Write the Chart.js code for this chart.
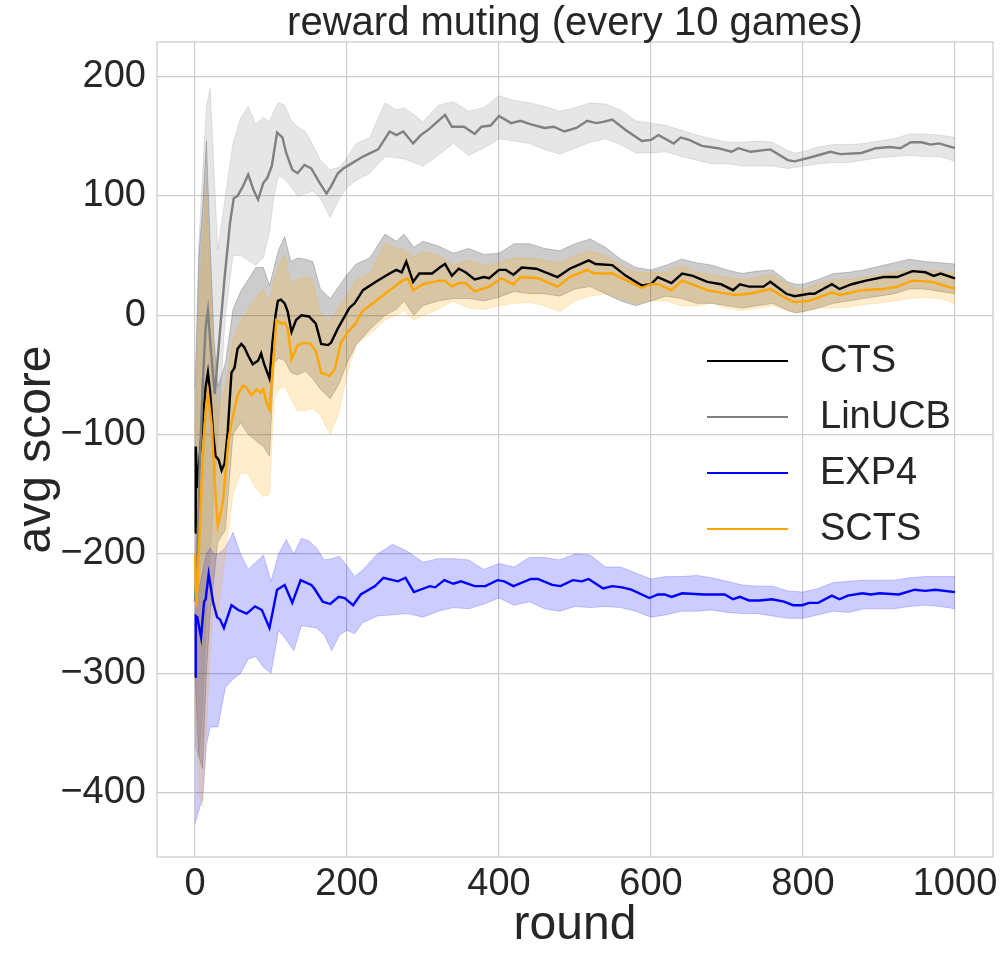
<!DOCTYPE html>
<html>
<head>
<meta charset="utf-8">
<script src="https://cdn.jsdelivr.net/npm/chart.js@4/dist/chart.umd.min.js"></script>
<style>
  html, body { margin: 0; padding: 0; background: #fff; }
  #wrap { width: 1007px; height: 959px; }
</style>
</head>
<body>
<div id="wrap"><canvas id="c"></canvas></div>
<script>
const titleText = "reward muting (every 10 games)";
const xTicks = [0, 200, 400, 600, 800, 1000];
const yTicks = [-400, -300, -200, -100, 0, 100, 200];

// mean curves
const ctsX = [0,1,3,6,10,14,17,20,24,27,31,35,39,43,48,52,56,61,65,70,76,83,87,91,98,102,106,109,113,118,122,127,133,140,150,159,166,175,179,188,196,203,210,221,238,256,265,272,278,287,295,312,322,329,338,347,356,368,380,387,400,409,419,430,449,477,493,504,518,527,549,567,588,600,609,627,641,655,674,692,708,717,729,748,757,778,789,808,815,838,848,864,883,906,924,944,961,972,981,1000];
const ctsY = [-182,-110,-145,-120,-90,-60,-48,-65,-100,-118,-121,-130,-124,-98,-48,-44,-28,-24,-27,-34,-41,-38,-32,-41,-53,-22,0,12,13,10,3,-14,-4,0,-1,-7,-24,-25,-23,-11,-2,6,10,21,28,35,38,36,45,28,35,35,40,43,33,39,36,30,32,31,38,38,34,40,39,32,39,42,46,43,42,33,25,26,32,27,35,33,28,26,21,26,24,24,28,18,16,18,18,26,22,26,29,32,32,37,36,33,35,31];

const linX = [0,3,6,10,14,17,21,26,32,39,46,51,56,63,70,77,83,90,95,101,108,115,120,128,135,144,153,164,173,179,188,195,203,221,241,256,265,274,287,297,308,322,329,338,354,368,377,389,400,416,428,442,460,472,486,502,516,528,537,549,567,588,600,610,630,639,650,667,688,706,715,731,757,780,789,808,836,849,877,896,914,928,942,956,968,979,1000];
const linY = [-240,-200,-130,-60,-10,4,-30,-66,-20,32,77,98,100,108,118,105,97,111,115,125,153,149,136,122,119,126,123,111,102,108,119,123,126,133,139,154,151,154,144,151,156,164,168,158,158,152,158,159,167,161,163,160,157,158,154,157,163,161,162,164,155,146,147,151,144,149,147,142,140,137,140,137,139,130,129,132,137,135,136,140,141,140,145,145,143,144,140];

const expX = [0,1,3,8,12,14,18,24,29,33,38,48,57,68,79,88,98,108,118,128,139,153,157,168,178,189,197,208,218,237,248,267,277,288,309,316,328,340,350,368,382,398,407,419,442,451,470,481,497,509,518,537,549,562,574,598,609,618,627,641,669,683,697,708,717,729,743,759,775,787,799,808,820,838,848,859,878,889,901,926,947,961,974,1000];
const expY = [-303,-252,-253,-270,-240,-238,-217,-241,-253,-255,-262,-243,-247,-250,-244,-247,-262,-230,-226,-241,-222,-226,-229,-240,-242,-236,-237,-243,-234,-227,-220,-223,-220,-232,-227,-228,-222,-225,-223,-227,-227,-222,-223,-227,-221,-221,-226,-227,-222,-223,-221,-229,-227,-228,-230,-237,-234,-234,-236,-233,-234,-234,-234,-238,-236,-239,-239,-238,-240,-243,-243,-241,-241,-235,-238,-235,-233,-234,-233,-234,-230,-231,-230,-232];

const sctsX = [0,2,5,10,14,17,22,26,30,34,37,41,44,48,56,63,67,74,81,86,90,94,98,102,107,114,118,122,127,135,144,152,159,166,177,184,192,201,210,221,238,256,273,280,287,300,322,329,338,347,356,368,387,403,419,428,451,477,493,516,525,549,588,600,609,627,641,674,692,711,729,757,778,789,808,838,849,877,906,924,944,970,1000];
const sctsY = [-200,-244,-200,-120,-80,-65,-92,-140,-176,-165,-155,-126,-105,-90,-67,-59,-60,-67,-62,-65,-62,-73,-79,-48,-4,-7,-6,-11,-37,-25,-23,-24,-30,-48,-51,-45,-23,-14,-8,4,12,21,29,31,21,26,29,29,24,27,27,20,24,31,26,32,31,24,32,38,35,35,23,26,26,21,29,21,19,17,18,22,14,11,12,19,17,21,22,24,29,28,22];

// confidence bands (CTS, LinUCB, SCTS share bandX)
const bandX = [0,5,10,15,20,25,30,40,50,60,70,80,90,98,104,110,118,126,135,145,155,165,178,190,200,212,230,250,265,275,288,300,320,340,360,380,400,420,440,460,480,500,520,540,560,580,600,620,640,660,680,700,720,740,760,780,790,800,820,840,860,880,900,920,940,960,980,1000];
const ctsHi = [-60,50,90,146,60,-20,-60,-40,5,20,30,40,40,25,40,55,66,45,48,47,45,22,14,25,34,43,48,68,62,68,57,62,58,52,56,51,52,60,60,56,54,60,64,57,47,40,38,42,47,44,42,38,35,37,38,28,26,26,30,35,36,38,41,44,47,45,44,43];
const ctsLo = [-300,-370,-380,-300,-250,-220,-190,-180,-100,-90,-100,-105,-110,-118,-40,-36,-38,-48,-50,-47,-53,-62,-70,-57,-40,-25,-12,0,5,12,0,8,12,14,14,12,15,20,18,18,16,22,24,18,12,8,12,16,14,10,10,8,6,8,10,4,2,3,6,10,12,14,16,18,22,22,20,18];
const linHi = [-120,60,120,175,190,120,55,100,144,165,175,160,166,162,172,178,176,164,158,154,143,130,122,124,132,144,149,178,172,174,168,162,176,179,171,174,184,180,178,175,171,174,178,177,172,163,161,159,155,151,148,145,145,146,145,138,136,137,141,143,143,144,146,148,152,152,151,149];
const linLo = [-360,-370,-330,-250,-200,-150,-100,0,50,50,46,42,48,70,100,117,114,108,100,102,104,98,82,98,107,113,119,133,132,131,128,125,134,144,134,140,148,146,144,139,135,140,145,148,143,136,136,137,133,130,127,127,125,125,125,123,124,125,127,128,128,130,132,133,134,133,133,129];
const sctsHi = [-100,0,60,107,30,-40,-80,-60,-20,-5,5,15,22,10,30,42,51,26,30,32,30,2,-5,8,16,30,35,60,56,55,49,53,50,42,46,42,44,48,48,46,44,50,54,50,42,36,36,36,42,36,34,32,30,32,34,26,22,22,26,30,30,32,34,36,38,38,37,35];
const sctsLo = [-320,-400,-412,-350,-280,-240,-250,-200,-150,-132,-133,-145,-152,-150,-70,-62,-60,-70,-80,-80,-78,-84,-100,-80,-50,-24,-16,-4,0,4,-4,0,5,12,6,5,8,10,11,8,3,12,16,18,14,10,12,12,8,8,10,6,4,6,8,4,2,3,6,6,7,9,10,12,14,15,14,10];

const expBandX = [0,5,10,15,20,25,30,40,50,60,70,80,90,100,110,120,130,140,150,160,170,180,190,200,210,220,240,260,280,300,320,340,360,380,400,420,440,460,480,500,520,540,560,580,600,620,640,660,680,700,720,740,760,780,800,820,840,860,880,900,920,940,960,980,1000];
const expHi = [-250,-230,-215,-200,-195,-200,-200,-195,-182,-200,-213,-207,-201,-223,-200,-188,-200,-187,-189,-195,-205,-204,-202,-210,-219,-214,-200,-192,-198,-207,-204,-204,-205,-213,-208,-211,-203,-203,-205,-200,-201,-211,-211,-216,-221,-219,-219,-218,-220,-223,-226,-227,-227,-231,-232,-229,-224,-223,-222,-222,-222,-220,-219,-219,-219];
const expLo = [-426,-415,-405,-360,-345,-345,-345,-312,-305,-300,-288,-286,-295,-300,-264,-272,-281,-260,-261,-262,-268,-281,-268,-264,-267,-258,-252,-251,-250,-253,-248,-245,-246,-242,-237,-243,-240,-246,-248,-244,-245,-244,-245,-248,-253,-251,-248,-248,-247,-249,-250,-250,-252,-254,-254,-251,-248,-249,-246,-246,-246,-244,-243,-244,-246];

const series = [
  { label: "CTS", rgb: "0, 0, 0", x: ctsX, y: ctsY, bx: bandX, lo: ctsLo, hi: ctsHi },
  { label: "LinUCB", rgb: "128, 128, 128", x: linX, y: linY, bx: bandX, lo: linLo, hi: linHi },
  { label: "EXP4", rgb: "0, 0, 255", x: expX, y: expY, bx: expBandX, lo: expLo, hi: expHi },
  { label: "SCTS", rgb: "255, 165, 0", x: sctsX, y: sctsY, bx: bandX, lo: sctsLo, hi: sctsHi }
];

const pts = (xs, ys) => xs.map((x, i) => ({ x: x, y: ys[i] }));

const datasets = [];
series.forEach((s, i) => {
  const loIndex = datasets.length + 1;
  datasets.push({
    label: s.label + " band",
    data: pts(s.bx, s.hi),
    fill: loIndex,
    backgroundColor: "rgba(" + s.rgb + ", 0.2)",
    borderColor: "rgba(" + s.rgb + ", 0.2)",
    borderWidth: 1,
    pointRadius: 0,
    order: 13 - i
  });
  datasets.push({
    label: s.label + " lo",
    data: pts(s.bx, s.lo),
    fill: false,
    borderColor: "rgba(" + s.rgb + ", 0.2)",
    borderWidth: 1,
    pointRadius: 0,
    order: 13 - i
  });
});
series.forEach((s, i) => {
  datasets.push({
    label: s.label,
    data: pts(s.x, s.y),
    fill: false,
    borderColor: "rgb(" + s.rgb + ")",
    borderWidth: 2.4,
    pointRadius: 0,
    order: 3 - i
  });
});

const FONT = "'Liberation Sans', Arial, sans-serif";
Chart.defaults.font.family = FONT;
Chart.defaults.color = "#262626";

// title, frame and legend drawn in the matplotlib places
const decor = {
  id: "decor",
  beforeDatasetsDraw(chart) {
    const { ctx, chartArea: a } = chart;
    ctx.save();
    ctx.strokeStyle = "#cccccc";
    ctx.lineWidth = 1.25;
    ctx.strokeRect(a.left, a.top, a.right - a.left, a.bottom - a.top);
    ctx.restore();
  },
  afterDraw(chart) {
    const { ctx, chartArea: a } = chart;
    ctx.save();
    ctx.fillStyle = "#262626";
    ctx.font = "40px " + FONT;
    ctx.textAlign = "center";
    ctx.textBaseline = "alphabetic";
    ctx.fillText(titleText, (a.left + a.right) / 2, 35);

    ctx.font = "38px " + FONT;
    ctx.textAlign = "left";
    ctx.textBaseline = "middle";
    series.forEach((s, i) => {
      const y = 361 + i * 56;
      ctx.strokeStyle = "rgb(" + s.rgb + ")";
      ctx.lineWidth = 2.2;
      ctx.beginPath();
      ctx.moveTo(707, y);
      ctx.lineTo(788, y);
      ctx.stroke();
      ctx.fillText(s.label, 820, y + 1);
    });
    ctx.restore();
  }
};

const minus = v => (v < 0 ? "\u2212" + Math.abs(v) : String(v));

new Chart(document.getElementById("c"), {
  type: "line",
  data: { datasets: datasets },
  plugins: [decor],
  options: {
    responsive: true,
    maintainAspectRatio: false,
    animation: false,
    layout: { padding: { top: 42, right: 14, left: 0, bottom: 0 } },
    plugins: {
      legend: { display: false },
      title: { display: false },
      tooltip: { enabled: false }
    },
    elements: { line: { tension: 0 } },
    scales: {
      x: {
        type: "linear",
        min: -50,
        max: 1050,
        afterBuildTicks: s => { s.ticks = xTicks.map(v => ({ value: v })); },
        afterFit: s => { s.height = 102; },
        grid: { color: "#cccccc", lineWidth: 1.2, drawTicks: false },
        border: { display: false },
        ticks: { font: { size: 38 }, padding: 5, maxRotation: 0, callback: minus },
        title: {
          display: true,
          text: "round",
          font: { size: 48 },
          padding: { top: 0, bottom: 4 }
        }
      },
      y: {
        type: "linear",
        min: -454,
        max: 229,
        afterBuildTicks: s => { s.ticks = yTicks.map(v => ({ value: v })); },
        afterFit: s => { s.width = 157; },
        grid: { color: "#cccccc", lineWidth: 1.2, drawTicks: false },
        border: { display: false },
        ticks: { font: { size: 38 }, padding: 11, callback: minus },
        title: {
          display: true,
          text: "avg score",
          font: { size: 48 },
          padding: { top: 8, bottom: 0 }
        }
      }
    }
  }
});
</script>
</body>
</html>
